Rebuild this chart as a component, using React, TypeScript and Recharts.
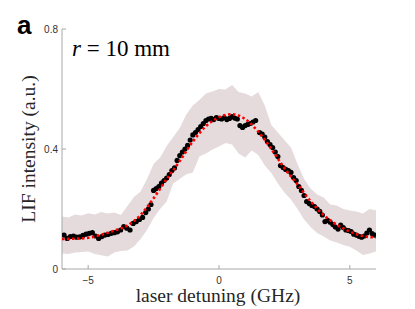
import * as React from "react";
import { Area, ComposedChart, Line, XAxis, YAxis } from "recharts";

// shaded band (spread of the measurement)
const bandX = [
  -6, -5.75, -5.5, -5.25, -5, -4.75, -4.5, -4.25, -4, -3.75, -3.5, -3.25, -3,
  -2.75, -2.5, -2.25, -2, -1.75, -1.5, -1.25, -1, -0.75, -0.5, -0.25, 0, 0.25,
  0.5, 0.75, 1, 1.25, 1.5, 1.75, 2, 2.25, 2.5, 2.75, 3, 3.25, 3.5, 3.75, 4,
  4.25, 4.5, 4.75, 5, 5.25, 5.5, 5.75, 6,
];
const bandUpper = [
  0.175, 0.172, 0.182, 0.178, 0.186, 0.182, 0.19, 0.185, 0.188, 0.18, 0.21,
  0.24, 0.258, 0.3, 0.35, 0.372, 0.41, 0.44, 0.47, 0.515, 0.545, 0.563, 0.585,
  0.592, 0.6, 0.598, 0.613, 0.59, 0.585, 0.575, 0.59, 0.545, 0.48, 0.455,
  0.43, 0.405, 0.35, 0.3, 0.268, 0.248, 0.238, 0.215, 0.212, 0.2, 0.195,
  0.192, 0.185, 0.2, 0.196,
];
const bandLower = [
  0.052, 0.05, 0.055, 0.057, 0.058, 0.05, 0.046, 0.042, 0.055, 0.06, 0.062,
  0.075, 0.1, 0.13, 0.17, 0.2, 0.225, 0.285, 0.3, 0.316, 0.322, 0.375, 0.385,
  0.398, 0.408, 0.42, 0.415, 0.385, 0.372, 0.395, 0.38, 0.345, 0.32, 0.285,
  0.255, 0.232, 0.2, 0.165, 0.14, 0.12, 0.108, 0.095, 0.088, 0.08, 0.074,
  0.062, 0.047, 0.052, 0.058,
];

// measured points
const dataX = [
  -5.92, -5.8, -5.68, -5.56, -5.44, -5.32, -5.2, -5.08, -4.96, -4.84, -4.72,
  -4.6, -4.48, -4.36, -4.24, -4.12, -4.0, -3.88, -3.76, -3.64, -3.52, -3.4,
  -3.28, -3.16, -3.04, -2.92, -2.8, -2.7, -2.6, -2.5, -2.4, -2.3, -2.2, -2.1,
  -2.0, -1.9, -1.8, -1.7, -1.6, -1.5, -1.4, -1.3, -1.2, -1.1, -1.0, -0.9,
  -0.8, -0.7, -0.6, -0.5, -0.4, -0.3, -0.2, -0.1, 0.0, 0.1, 0.2, 0.3, 0.4,
  0.5, 0.6, 0.7, 0.8, 0.9, 1.0, 1.1, 1.2, 1.3, 1.4, 1.55, 1.65, 1.75, 1.85,
  1.95, 2.05, 2.15, 2.25, 2.35, 2.45, 2.55, 2.65, 2.75, 2.85, 2.95, 3.05,
  3.15, 3.25, 3.35, 3.45, 3.55, 3.65, 3.75, 3.85, 3.95, 4.05, 4.15, 4.25,
  4.35, 4.45, 4.55, 4.65, 4.75, 4.85, 4.95, 5.05, 5.15, 5.25, 5.35, 5.45,
  5.55, 5.65, 5.75, 5.85, 5.95,
];
const dataY = [
  0.113, 0.102, 0.108, 0.11, 0.106, 0.107, 0.112, 0.116, 0.119, 0.121, 0.11,
  0.102, 0.108, 0.113, 0.115, 0.119, 0.121, 0.124, 0.13, 0.141, 0.136, 0.13,
  0.152, 0.158, 0.165, 0.172, 0.188, 0.2, 0.215, 0.262, 0.268, 0.275, 0.286,
  0.295, 0.303, 0.315, 0.328, 0.337, 0.362, 0.378, 0.39, 0.4, 0.412, 0.43,
  0.447, 0.455, 0.465, 0.475, 0.485, 0.495, 0.5, 0.502, 0.498, 0.505, 0.502,
  0.5, 0.505, 0.498, 0.502, 0.508, 0.503, 0.5, 0.478, 0.472, 0.478, 0.482,
  0.485, 0.49, 0.495, 0.455, 0.45, 0.44, 0.425, 0.415, 0.405, 0.39, 0.375,
  0.345, 0.338, 0.332, 0.328, 0.322, 0.305, 0.295, 0.275, 0.262, 0.245,
  0.225, 0.218, 0.212, 0.208, 0.2, 0.192, 0.18, 0.158, 0.162, 0.156, 0.148,
  0.14, 0.133, 0.146, 0.138, 0.13, 0.128, 0.125, 0.116, 0.113, 0.109, 0.106,
  0.11, 0.12, 0.13, 0.118, 0.113,
];

// fitted profile (red dotted)
const fitX = [
  -6, -5.5, -5, -4.5, -4, -3.5, -3, -2.5, -2, -1.5, -1, -0.5, 0, 0.5, 1, 1.5,
  2, 2.5, 3, 3.5, 4, 4.5, 5, 5.5, 6,
];
const fitY = [
  0.1, 0.101, 0.104, 0.114, 0.128, 0.145, 0.18, 0.236, 0.3, 0.36, 0.425,
  0.476, 0.506, 0.516, 0.5, 0.458, 0.4, 0.336, 0.282, 0.226, 0.18, 0.148,
  0.125, 0.11, 0.105,
];

const xTicks = [-5, 0, 5];
const yTicks = [0, 0.4, 0.8];

const band = bandX.map((x, i) => ({ x, range: [bandLower[i], bandUpper[i]] }));
const points = dataX.map((x, i) => ({ x, y: dataY[i] }));
const fit = fitX.map((x, i) => ({ x, y: fitY[i] }));

const serif = '"Liberation Serif", "DejaVu Serif", serif';
const sans = '"Liberation Sans", Arial, sans-serif';
const axisColor = "#a8a8a8";
const tickStyle = { fill: "#333", fontSize: 10, fontFamily: sans };

const Dot = (props: any) => (
  <circle key={props.index} cx={props.cx} cy={props.cy} r={2.6} fill="#000" />
);

export default function App() {
  return (
    <div
      style={{
        position: "absolute",
        left: 0,
        top: 0,
        width: 415,
        height: 309,
        background: "#fff",
      }}
    >
      <ComposedChart
        width={415}
        height={309}
        margin={{ top: 29, right: 39, bottom: 10, left: 22 }}
      >
        <XAxis
          type="number"
          dataKey="x"
          domain={[-6, 6]}
          ticks={xTicks}
          allowDataOverflow
          height={30}
          stroke={axisColor}
          tickSize={-4}
          tickMargin={12}
          tick={tickStyle}
          tickFormatter={(v) => String(v).replace("-", "\u2212")}
        />
        <YAxis
          type="number"
          domain={[0, 0.8]}
          ticks={yTicks}
          allowDataOverflow
          width={40}
          stroke={axisColor}
          tickSize={-4}
          tickMargin={8}
          tick={tickStyle}
        />
        <Area
          data={band}
          dataKey="range"
          type="linear"
          stroke="none"
          fill="#e5dbdc"
          fillOpacity={1}
          isAnimationActive={false}
        />
        <Line
          data={points}
          dataKey="y"
          stroke="none"
          dot={<Dot />}
          activeDot={false}
          isAnimationActive={false}
        />
        <Line
          data={fit}
          dataKey="y"
          type="monotone"
          stroke="#ff0000"
          strokeWidth={2.6}
          strokeDasharray="2.5 2.5"
          dot={false}
          activeDot={false}
          zIndex={1000}
          isAnimationActive={false}
        />
      </ComposedChart>
      <svg
        width={415}
        height={309}
        style={{ position: "absolute", left: 0, top: 0, pointerEvents: "none" }}
      >
        <text x={17} y={34} fontFamily={sans} fontWeight="bold" fontSize={26}>
          a
        </text>
        <text x={72} y={56} fontFamily={serif} fontSize={23}>
          <tspan fontStyle="italic">r</tspan> = 10 mm
        </text>
        <text
          x={218}
          y={302}
          textAnchor="middle"
          fontFamily={serif}
          fontSize={19.5}
          fill="#262626"
        >
          laser detuning (GHz)
        </text>
        <text
          transform="translate(35,149) rotate(-90)"
          textAnchor="middle"
          fontFamily={serif}
          fontSize={19.5}
          fill="#262626"
        >
          LIF intensity (a.u.)
        </text>
      </svg>
    </div>
  );
}
